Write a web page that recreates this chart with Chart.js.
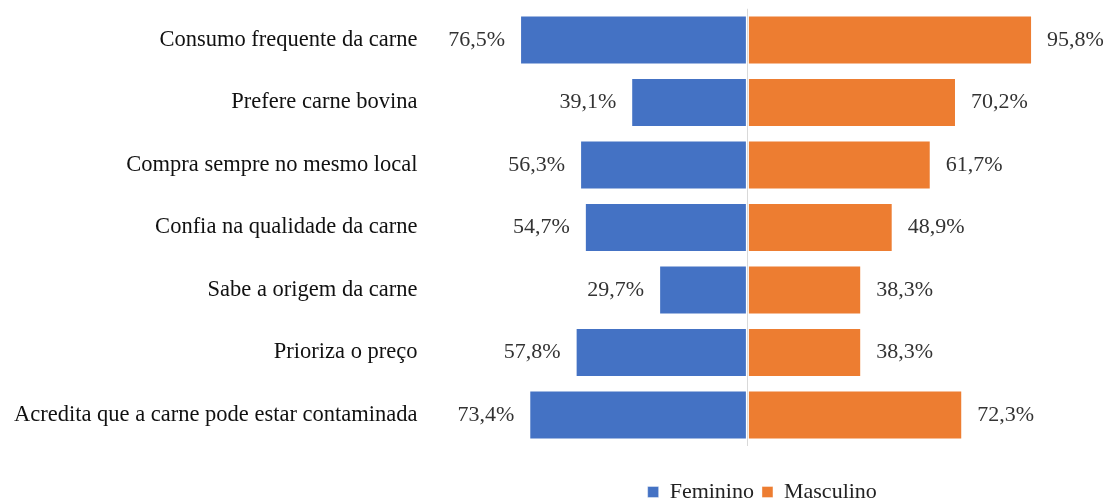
<!DOCTYPE html>
<html>
<head>
<meta charset="utf-8">
<script src="https://cdn.jsdelivr.net/npm/chart.js@4"></script>
<style>
  html, body { margin: 0; padding: 0; background: #fff; }
  #wrap { width: 1105px; height: 501px; }
</style>
</head>
<body>
<div id="wrap"><canvas id="chart" width="1105" height="501"></canvas></div>
<script>
const categories = [
  "Consumo frequente da carne",
  "Prefere carne bovina",
  "Compra sempre no mesmo local",
  "Confia na qualidade da carne",
  "Sabe a origem da carne",
  "Prioriza o preço",
  "Acredita que a carne pode estar contaminada",
];
const feminino = [76.5, 39.1, 56.3, 54.7, 29.7, 57.8, 73.4];
const masculino = [95.8, 70.2, 61.7, 48.9, 38.3, 38.3, 72.3];

const FONT = "'Liberation Serif', 'Times New Roman', serif";

function fmt(v) {
  return Math.abs(v).toFixed(1).replace(".", ",") + "%";
}

// draws the value next to the end of each bar
const valueLabels = {
  id: "valueLabels",
  afterDatasetsDraw(chart) {
    const ctx = chart.ctx;
    ctx.save();
    ctx.font = "22px " + FONT;
    ctx.fillStyle = "#333";
    ctx.textBaseline = "middle";
    chart.data.datasets.forEach((ds, i) => {
      const meta = chart.getDatasetMeta(i);
      meta.data.forEach((bar, j) => {
        const v = ds.data[j];
        if (v < 0) {
          ctx.textAlign = "right";
          ctx.fillText(fmt(v), bar.x - 15, bar.y);
        } else {
          ctx.textAlign = "left";
          ctx.fillText(fmt(v), bar.x + 15, bar.y);
        }
      });
    });
    ctx.restore();
  },
};

const ctx = document.getElementById("chart").getContext("2d");

new Chart(ctx, {
  type: "bar",
  data: {
    labels: categories,
    datasets: [
      {
        label: "Feminino",
        data: feminino.map((v) => -v),
        backgroundColor: "#4472C4",
        borderColor: "rgba(255,255,255,0.4)",
        borderWidth: 1,
        borderSkipped: false,
        categoryPercentage: 1,
        barPercentage: 0.785,
      },
      {
        label: "Masculino",
        data: masculino,
        backgroundColor: "#ED7D31",
        borderColor: "rgba(255,255,255,0.4)",
        borderWidth: 1,
        borderSkipped: false,
        categoryPercentage: 1,
        barPercentage: 0.785,
      },
    ],
  },
  options: {
    indexAxis: "y",
    responsive: false,
    animation: false,
    layout: {
      padding: { left: 0, right: 4, top: 8.75, bottom: -12 },
    },
    plugins: {
      tooltip: { enabled: false },
      legend: {
        position: "bottom",
        fullSize: false,
        labels: {
          font: { family: FONT, size: 22 },
          color: "#222",
          boxWidth: 11,
          boxHeight: 11,
          padding: 8,
        },
      },
    },
    scales: {
      x: {
        stacked: true,
        min: -109,
        max: 119,
        ticks: { display: false, stepSize: 1 },
        border: { display: false },
        grid: {
          drawTicks: false,
          color: (c) => (c.tick && c.tick.value === 0 ? "#d9d9d9" : "transparent"),
        },
        afterFit: (scale) => {
          scale.height = 26.75;
        },
      },
      y: {
        stacked: true,
        border: { display: false },
        grid: { display: false, drawTicks: false },
        ticks: {
          font: { family: FONT, size: 22.5, lineHeight: 0.2 },
          color: "#111",
          padding: 6,
        },
        afterFit: (scale) => {
          scale.width = 423.5;
        },
      },
    },
  },
  plugins: [valueLabels],
});
</script>
</body>
</html>
